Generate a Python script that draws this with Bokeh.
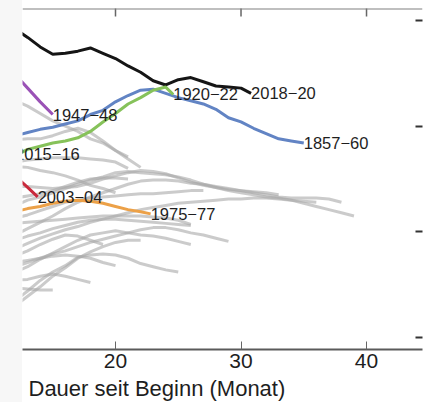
import math
from bokeh.plotting import figure
from bokeh.models import (Range1d, LinearAxis, FixedTicker, Title, CustomLabelingPolicy,
                          Spacer, Span)
from bokeh.layouts import row
from bokeh.core.properties import value
from bokeh.embed import file_html
from bokeh.resources import INLINE

# ---- data (x: Monate seit Beginn, y: Index) ----
x_ticks = [20, 30, 40]
y_ticks = [0, 1, 2, 3]
x_axis_label = "Dauer seit Beginn (Monat)"

# highlighted events
m_2018_20 = [12, 13, 14, 15, 16, 17, 18, 19, 20, 21, 22, 23, 24, 25, 26, 27, 28, 29, 30, 30.8]
v_2018_20 = [2.92, 2.84, 2.75, 2.68, 2.69, 2.71, 2.74, 2.69, 2.64, 2.57, 2.51, 2.43, 2.39,
             2.44, 2.46, 2.42, 2.38, 2.37, 2.36, 2.31]

m_1857_60 = list(range(12, 36))
v_1857_60 = [1.91, 1.94, 1.97, 1.99, 2.02, 2.05, 2.11, 2.15, 2.23, 2.29, 2.34, 2.35, 2.31,
             2.27, 2.24, 2.21, 2.16, 2.08, 2.04, 1.98, 1.93, 1.88, 1.86, 1.84]

m_1920_22 = [12, 13, 14, 15, 16, 17, 18, 19, 20, 21, 22, 23, 24, 24.6]
v_1920_22 = [1.72, 1.78, 1.81, 1.84, 1.86, 1.89, 1.95, 2.04, 2.12, 2.21, 2.27, 2.34, 2.37, 2.30]

m_1947_48 = [12, 13, 14, 15]
v_1947_48 = [2.49, 2.36, 2.23, 2.11]

m_2003_04 = [12, 13, 13.8]
v_2003_04 = [1.53, 1.42, 1.33]

m_1975_77 = [12, 13, 14, 15, 16, 17, 18, 19, 20, 21, 22, 22.8]
v_1975_77 = [1.19, 1.22, 1.24, 1.27, 1.29, 1.30, 1.29, 1.27, 1.24, 1.21, 1.19, 1.17]

m_2015_16 = [12.0]
v_2015_16 = [1.74]

# other events (grey)
grey_v = [
    [2.24, 2.19, 2.12, 2.05, 2.00, 1.95, 1.88, 1.84, 1.77, 1.69, 1.61],
    [1.87, 1.88, 1.88, 1.91, 1.95, 1.98, 1.94, 1.86, 1.77, 1.71],
    [1.66, 1.68, 1.69, 1.70, 1.70, 1.70, 1.69, 1.68, 1.66, 1.60],
    [1.62, 1.61, 1.58, 1.56, 1.53, 1.49, 1.44, 1.41, 1.37],
    [0.97, 1.03, 1.09, 1.15, 1.22, 1.28, 1.33, 1.37, 1.41, 1.45, 1.48, 1.49, 1.49, 1.48,
     1.46, 1.45, 1.42, 1.39, 1.37, 1.35, 1.33, 1.32, 1.30, 1.27, 1.24, 1.21, 1.18, 1.15],
    [1.25, 1.30, 1.33, 1.37, 1.41, 1.45, 1.49, 1.52, 1.56, 1.57, 1.56, 1.55, 1.54, 1.52,
     1.49, 1.45, 1.43, 1.41, 1.39, 1.37, 1.35, 1.33, 1.32, 1.32, 1.32, 1.31, 1.28],
    [1.13, 1.16, 1.20, 1.24, 1.28, 1.30, 1.32, 1.33, 1.34, 1.35, 1.36, 1.36, 1.37, 1.38, 1.39, 1.39],
    [0.84, 0.89, 0.94, 0.98, 1.02, 1.05, 1.09, 1.12, 1.15, 1.18, 1.21, 1.23, 1.25, 1.27,
     1.28, 1.29, 1.30, 1.31, 1.31, 1.32, 1.32, 1.31, 1.30, 1.29, 1.28],
    [0.67, 0.71, 0.75, 0.79, 0.82, 0.86, 0.90, 0.93, 0.96, 0.99, 1.02, 1.04, 1.04, 1.02,
     0.99, 0.97, 0.94, 0.91],
    [0.35, 0.44, 0.54, 0.62, 0.68, 0.76, 0.78, 0.79, 0.78, 0.75, 0.70, 0.67, 0.64, 0.62],
    [0.54, 0.55, 0.58, 0.60, 0.58, 0.55, 0.52],
    [0.47, 0.46, 0.45, 0.45],
    [0.77, 0.82, 0.88, 0.93, 0.97, 0.96, 0.92, 0.88],
    [0.62, 0.67, 0.74, 0.80, 0.86, 0.92, 0.97, 0.99, 1.01, 0.99, 0.97, 0.96, 0.94, 0.91, 0.88],
    [0.30, 0.39, 0.48, 0.58, 0.66, 0.75, 0.81, 0.86, 0.90, 0.92, 0.92],
    [1.43, 1.43, 1.42, 1.41, 1.42, 1.43, 1.46, 1.50, 1.53, 1.56, 1.58, 1.57, 1.55, 1.51,
     1.47, 1.44, 1.42, 1.40, 1.39, 1.38, 1.37, 1.35],
    [1.32, 1.34, 1.36, 1.39, 1.43, 1.47, 1.50, 1.51, 1.51, 1.50],
    [1.08, 1.09, 1.10, 1.11, 1.12, 1.13, 1.14, 1.15, 1.15, 1.15, 1.15, 1.14, 1.13, 1.11, 1.07],
    [0.92, 0.96, 0.99, 1.03, 1.06, 1.09, 1.11, 1.12, 1.12, 1.11, 1.10, 1.09, 1.08, 1.07, 1.06],
    [0.71, 0.73, 0.75, 0.77, 0.78, 0.77, 0.75, 0.71, 0.68],
]
grey_start_month = 12

highlight = [
    ("2018-20", m_2018_20, v_2018_20, "#151515"),
    ("1857-60", m_1857_60, v_1857_60, "#6284c4"),
    ("1920-22", m_1920_22, v_1920_22, "#86c25a"),
    ("1947-48", m_1947_48, v_1947_48, "#9a52b6"),
    ("2003-04", m_2003_04, v_2003_04, "#c92a3c"),
    ("1975-77", m_1975_77, v_1975_77, "#eca148"),
    ("2015-16", m_2015_16, v_2015_16, "#5aa0d0"),
]

FONT = "Liberation Sans"
HIDE_ALL = CustomLabelingPolicy(code="""
    for (const i of indices) { indices.unset(i) }
    return indices
""")

X_RANGE = (12.59, 44.46)
Y_RANGE = (-0.1136, 3.1136)

p = figure(frame_width=400, frame_height=341,
           x_range=Range1d(*X_RANGE), y_range=Range1d(*Y_RANGE),
           output_backend="svg", toolbar_location=None,
           x_axis_location=None, y_axis_location=None,
           min_border_left=0, min_border_right=0, min_border_top=8, min_border_bottom=0)
p.grid.visible = False
p.outline_line_color = None
p.background_fill_color = "white"
p.border_fill_color = "white"

for vals in grey_v:
    months = [grey_start_month + i for i in range(len(vals))]
    p.line(months, vals, line_color="#a9a9a9", line_alpha=0.6, line_width=3)

lab_x, lab_y, lab_t = [], [], []
for name, ms, vs, col in highlight:
    if len(ms) > 1:
        p.line(ms, vs, line_color=col, line_width=3)
    lab_x.append(ms[-1]); lab_y.append(vs[-1]); lab_t.append(name.replace("-", "\u2212"))

p.text(x=lab_x, y=lab_y, text=lab_t, text_align="left", text_baseline="middle",
       text_font=value(FONT), text_font_size="16.5px", text_color="#1e1e1e")

# top frame line with inward ticks
p.add_layout(Span(location=Y_RANGE[1], dimension="width", line_color="#808080", line_width=2))
p.scatter(x=x_ticks, y=[Y_RANGE[1]] * len(x_ticks), marker="dash", angle=math.pi / 2,
          size=16, line_color="#666666", line_width=1.5)

bottom = LinearAxis(ticker=FixedTicker(ticks=x_ticks))
bottom.axis_line_color = "#5a5a5a"
bottom.axis_line_width = 2
bottom.major_tick_in = 8
bottom.major_tick_out = 0
bottom.major_tick_line_color = "#666666"
bottom.minor_tick_line_color = None
bottom.major_label_standoff = 4
bottom.major_label_text_font = FONT
bottom.major_label_text_font_size = "21px"
bottom.major_label_text_color = "#1e1e1e"
p.add_layout(bottom, "below")

right = LinearAxis(ticker=FixedTicker(ticks=y_ticks))
right.axis_line_color = None
right.major_tick_in = 7
right.major_tick_out = 0
right.major_tick_line_color = "#333333"
right.major_tick_line_width = 2
right.minor_tick_line_color = None
right.major_label_standoff = 0
right.major_label_text_font_size = "2px"
right.major_label_policy = HIDE_ALL
p.add_layout(right, "right")

title = Title(text=x_axis_label, align="left", offset=6, standoff=6,
              text_font=FONT, text_font_size="22px", text_font_style="normal",
              text_color="#1e1e1e")
p.add_layout(title, "below")

strip = Spacer(width=22, height=402, styles={"background-color": "#f7f7f7"})
layout = row(strip, p, spacing=0)

open("out.html", "w").write(file_html(layout, INLINE))
